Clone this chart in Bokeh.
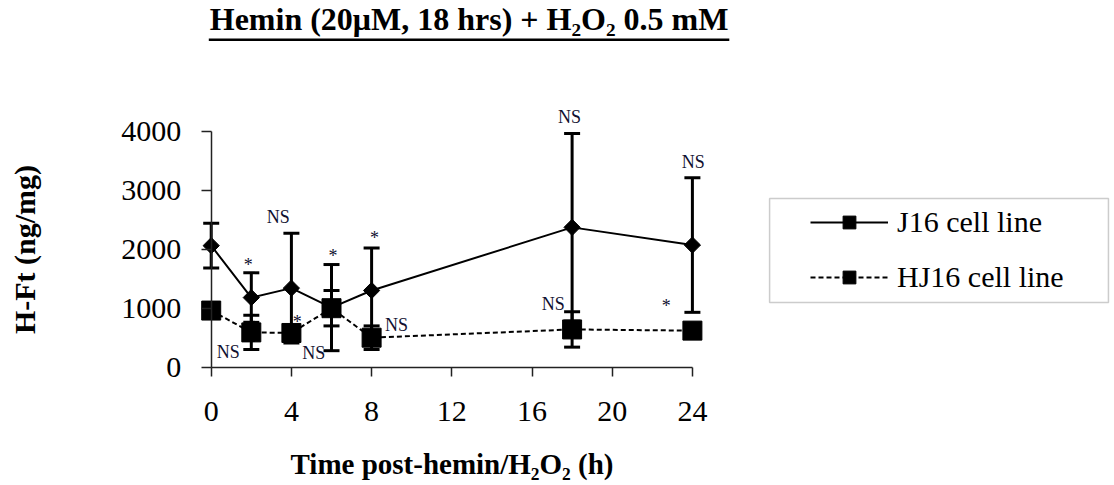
import numpy as np
import pandas as pd
from bokeh.plotting import figure
from bokeh.models import (ColumnDataSource, Range1d, FixedTicker, Whisker, TeeHead,
                          Legend, LegendItem, Label, BoxAnnotation)
from bokeh.core.properties import value
from bokeh.embed import file_html
from bokeh.resources import INLINE

# ---------------- data ----------------
time_h = [0, 2, 4, 6, 8, 18, 24]
j16 = [2060, 1180, 1340, 1010, 1300, 2370, 2070]
j16_err = [380, 420, 930, 730, 720, 1590, 1140]
hj16 = [960, 590, 580, 1000, 500, 640, 620]
hj16_err = [100, 290, 120, 300, 200, 300, 100]

x_ticks = [0, 4, 8, 12, 16, 20, 24]
y_ticks = [0, 1000, 2000, 3000, 4000]

ann_text = ["NS", "*", "*", "*", "NS", "*", "NS", "NS", "NS", "NS", "NS", "*"]
ann_x = [3.34, 1.85, 6.08, 8.14, 0.85, 4.29, 5.12, 9.24, 17.87, 24.04, 17.06, 22.69]
ann_y = [2542, 1740, 1880, 2190, 254, 770, 237, 707, 4249, 3486, 1074, 1035]

title_text = "Hemin (20\u03bcM, 18 hrs) + H\u2082O\u2082 0.5 mM"
x_label = "Time post-hemin/H\u2082O\u2082 (h)"
y_label = "H-Ft (ng/mg)"
series_names = ["J16 cell line", "HJ16 cell line"]

SERIF = "Liberation Serif"

df = pd.DataFrame({"t": time_h, "j": j16, "je": j16_err, "h": hj16, "he": hj16_err})
df["j_up"] = df["j"] + df["je"]
df["j_lo"] = df["j"] - df["je"]
df["h_up"] = df["h"] + df["he"]
df["h_lo"] = df["h"] - df["he"]
src = ColumnDataSource(df)
ann_src = ColumnDataSource(dict(x=ann_x, y=ann_y, t=ann_text))

W, H = 1110, 482
p = figure(width=W, height=H, output_backend="svg", toolbar_location=None,
           x_range=Range1d(-10.509, -10.509 + W / 20.05),
           y_range=Range1d(6215.3 - H / 0.059, 6215.3),
           min_border_left=0, min_border_right=0, min_border_top=0,
           min_border_bottom=0)
p.outline_line_color = None
p.grid.visible = False
p.background_fill_color = "white"
p.border_fill_color = "white"

# ---------------- axes ----------------
xa = p.xaxis[0]
xa.fixed_location = 0
xa.bounds = (0, 24)
xa.ticker = FixedTicker(ticks=x_ticks)
ya = p.yaxis[0]
ya.fixed_location = 0
ya.bounds = (0, 4000)
ya.ticker = FixedTicker(ticks=y_ticks)
for ax in (xa, ya):
    ax.axis_line_color = "#222222"
    ax.axis_line_width = 1.5
    ax.major_tick_line_color = "#222222"
    ax.major_tick_line_width = 1.5
    ax.major_tick_in = 0
    ax.minor_tick_line_color = None
    ax.major_label_text_font = SERIF
    ax.major_label_text_font_size = "30px"
    ax.major_label_text_color = "black"
    ax.axis_label_text_font = SERIF
    ax.axis_label_text_font_style = "bold"
    ax.axis_label_text_color = "black"
xa.major_tick_out = 9
xa.major_label_standoff = 26
xa.axis_label = x_label
xa.axis_label_text_font_size = "29px"
xa.axis_label_standoff = 23
ya.major_tick_out = 10
ya.major_label_standoff = 20
ya.axis_label = y_label
ya.axis_label_text_font_size = "30px"
ya.axis_label_standoff = 78

# ---------------- error bars ----------------
for up, lo in (("j_up", "j_lo"), ("h_up", "h_lo")):
    w = Whisker(source=src, base="t", upper=up, lower=lo, dimension="height",
                line_width=3, line_color="black",
                upper_head=TeeHead(size=16, line_width=3, line_color="black"),
                lower_head=TeeHead(size=16, line_width=3, line_color="black"))
    p.add_layout(w)

# ---------------- series ----------------
r_j_line = p.line("t", "j", source=src, line_color="black", line_width=2)
r_j_pts = p.scatter("t", "j", source=src, marker="square", angle=np.pi / 4,
                    size=11.5, color="black")
r_h_line = p.line("t", "h", source=src, line_color="black", line_width=2,
                  line_dash="5 3")
r_h_pts = p.scatter("t", "h", source=src, marker="square", size=19, color="black")

# ---------------- significance marks ----------------
p.text(x="x", y="y", text="t", source=ann_src, text_font=value(SERIF),
       text_font_size="18px", text_align="center", text_baseline="middle",
       text_color="#101030")

# ---------------- legend ----------------
legend = Legend(items=[LegendItem(label=series_names[0], renderers=[r_j_line, r_j_pts]),
                       LegendItem(label=series_names[1], renderers=[r_h_line, r_h_pts])],
                location=(810, 188), padding=0, margin=0, spacing=21,
                glyph_width=78, glyph_height=32, label_height=32, label_standoff=9,
                label_text_font=SERIF, label_text_font_size="30px",
                label_text_color="black",
                border_line_alpha=0, background_fill_alpha=0)
p.add_layout(legend)
p.add_layout(BoxAnnotation(left=27.85, right=44.75, top=2859, bottom=1097,
                           fill_color=None, line_color="#555555", line_width=1.5))

# ---------------- title with underline ----------------
p.add_layout(Label(x=12.86, y=5905, text=title_text, text_font=SERIF,
                   text_font_style="bold", text_font_size="32px",
                   text_align="center", text_baseline="middle", text_color="black"))
p.segment(x0=[-0.12], y0=[5550], x1=[25.84], y1=[5550], line_width=2.5, line_color="black")

open("out.html", "w").write(file_html(p, INLINE))
